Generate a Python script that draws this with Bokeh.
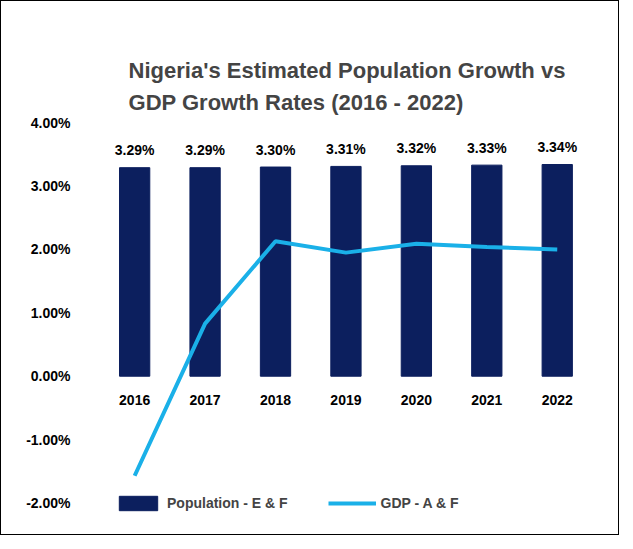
from bokeh.plotting import figure
from bokeh.models import Range1d, ColumnDataSource, Legend, LegendItem, NumeralTickFormatter, FixedTicker
from bokeh.core.properties import value
from bokeh.embed import file_html
from bokeh.resources import INLINE

years = [2016, 2017, 2018, 2019, 2020, 2021, 2022]
population = [3.29, 3.29, 3.30, 3.31, 3.32, 3.33, 3.34]
gdp = [-1.57, 0.83, 2.13, 1.95, 2.09, 2.04, 2.00]
pop_labels = ["3.29%", "3.29%", "3.30%", "3.31%", "3.32%", "3.33%", "3.34%"]
year_labels = [str(y) for y in years]

FONT = "Liberation Sans"
src = ColumnDataSource(dict(x=years, pop=[v / 100 for v in population], gdp=[v / 100 for v in gdp],
                            lab=pop_labels, ylab=year_labels,
                            laby=[v / 100 + 0.0015 for v in population],
                            yry=[-0.003] * len(years)))

p = figure(width=617, height=533, output_backend="svg", toolbar_location=None,
           x_range=Range1d(2015.43, 2022.6), y_range=Range1d(-0.0215, 0.0405),
           min_border_left=93, min_border_right=19, min_border_top=118, min_border_bottom=22,
           title="Nigeria's Estimated Population Growth vs\nGDP Growth Rates (2016 - 2022)")
p.title.align = "center"
p.title.text_font = FONT
p.title.text_font_style = "bold"
p.title.text_font_size = "22px"
p.title.text_line_height = 1.25
p.title.offset = 30
p.outline_line_color = None
p.border_fill_color = "white"
p.xgrid.visible = False
p.ygrid.visible = False
p.xaxis.visible = False
ya = p.yaxis[0]
ya.ticker = FixedTicker(ticks=[-0.02, -0.01, 0, 0.01, 0.02, 0.03, 0.04])
ya.formatter = NumeralTickFormatter(format="0.00%")
ya.axis_line_color = None
ya.major_tick_line_color = None
ya.minor_tick_line_color = None
ya.major_label_text_font = FONT
ya.major_label_text_font_style = "bold"
ya.major_label_text_font_size = "14px"
ya.major_label_text_color = "black"
ya.major_label_standoff = 18

bars = p.vbar(x="x", top="pop", width=0.43, source=src, color="#0c1f5e")
line = p.line(x="x", y="gdp", source=src, line_color="#1ab0e8", line_width=4)
p.text(x="x", y="laby", text="lab", source=src, text_align="center", text_baseline="bottom",
       text_font=value(FONT), text_font_style="bold", text_font_size="14px", text_color="black")
p.text(x="x", y="yry", text="ylab", source=src, text_align="center", text_baseline="top",
       text_font=value(FONT), text_font_style="bold", text_font_size="14px", text_color="black")

leg = Legend(items=[LegendItem(label="Population - E & F", renderers=[bars]),
                    LegendItem(label="GDP - A & F", renderers=[line])],
             orientation="horizontal", location=(20, 0), background_fill_alpha=0,
             border_line_color=None, label_text_font=FONT, label_text_font_style="bold",
             label_text_font_size="14px", glyph_width=48, glyph_height=18, spacing=40, padding=2)
p.add_layout(leg, "center")

html = file_html(p, INLINE)
html = html.replace("<body>", "<body><div style='display:inline-block;border:1px solid black'>").replace("</body>", "</div></body>")
open("out.html", "w").write(html)
